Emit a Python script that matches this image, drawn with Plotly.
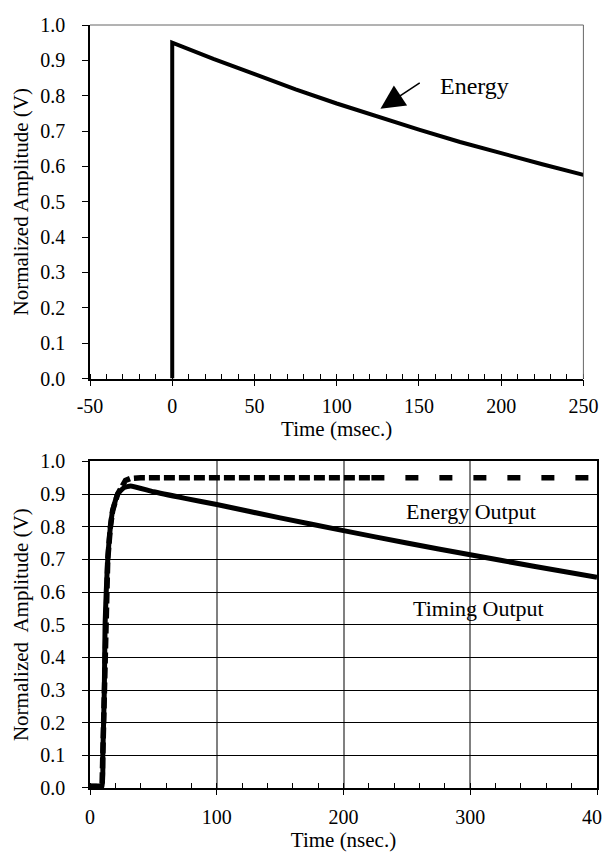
import plotly.graph_objects as go

# ---- Data ----
# Top panel: energy output, time in msec
energy_ms_t = [0, 0, 25, 50, 75, 100, 125, 150, 175, 200, 225, 250]
energy_ms_v = [0.0, 0.950, 0.904, 0.860, 0.818, 0.778, 0.740, 0.704, 0.669, 0.637, 0.606, 0.576]

# Bottom panel: time in nsec
timing_t = [0, 5, 9.5, 10.1, 11.3, 11.9, 12.8, 14.0, 16.1, 17.9, 21.8, 26.8, 32,
            50, 75, 100, 150, 200, 250, 300, 350, 400]
timing_v = [0.005, 0.005, 0.005, 0.1, 0.3, 0.5, 0.6, 0.7, 0.8, 0.85, 0.9, 0.92, 0.925,
            0.907, 0.887, 0.868, 0.827, 0.788, 0.750, 0.714, 0.679, 0.645]

energy_out_t_a = [0, 5, 9.5, 10.1, 11.3, 11.9, 12.8, 14.0, 16.1, 17.9, 21.8, 25, 28, 32, 36, 40,
                  80, 120, 160, 200, 222]
energy_out_v_a = [0.005, 0.005, 0.005, 0.1, 0.3, 0.5, 0.6, 0.7, 0.8, 0.85, 0.9, 0.925, 0.942,
                  0.948, 0.95, 0.95, 0.95, 0.95, 0.95, 0.95, 0.95]
energy_out_t_b = [222, 260, 300, 340, 400]
energy_out_v_b = [0.95, 0.95, 0.95, 0.95, 0.95]

top_xticks = [-50, 0, 50, 100, 150, 200, 250]
top_xtext = ["-50", "0", "50", "100", "150", "200", "250"]
bot_xticks = [0, 100, 200, 300, 400]
y_ticks = [0.0, 0.1, 0.2, 0.3, 0.4, 0.5, 0.6, 0.7, 0.8, 0.9, 1.0]

FONT = "Times New Roman, Liberation Serif, serif"

fig = go.Figure()
fig.add_trace(go.Scatter(x=energy_ms_t, y=energy_ms_v, mode="lines",
                         line=dict(color="black", width=4), xaxis="x", yaxis="y",
                         showlegend=False))
fig.add_trace(go.Scatter(x=timing_t, y=timing_v, mode="lines",
                         line=dict(color="black", width=5, shape="spline", smoothing=0.4),
                         xaxis="x2", yaxis="y2", showlegend=False))
fig.add_trace(go.Scatter(x=energy_out_t_a, y=energy_out_v_a, mode="lines",
                         line=dict(color="black", width=5.5, dash="11px,4px"),
                         xaxis="x2", yaxis="y2", showlegend=False))
fig.add_trace(go.Scatter(x=energy_out_t_b, y=energy_out_v_b, mode="lines",
                         line=dict(color="black", width=5.5, dash="13px,21px"),
                         xaxis="x2", yaxis="y2", showlegend=False))

common_y = dict(range=[0, 1], tickvals=y_ticks, tickformat=".1f", ticks="outside",
                ticklen=6, tickwidth=1, tickcolor="black", showline=True,
                linecolor="black", linewidth=1.5, zeroline=False,
                tickfont=dict(family=FONT, size=20, color="black"),
                ticklabelstandoff=13, fixedrange=True)

fig.update_layout(
    width=610, height=853,
    margin=dict(l=82, r=6, t=16, b=73),
    paper_bgcolor="white", plot_bgcolor="white",
    font=dict(family=FONT, color="black"),
    xaxis=dict(domain=[0, 0.97318], anchor="y", range=[-50, 250], tickvals=top_xticks,
               ticktext=top_xtext,
               ticks="outside", ticklen=6, tickwidth=1, tickcolor="black",
               showline=True, linecolor="black", linewidth=1.5, showgrid=False,
               zeroline=False,
               minor=dict(ticks="inside", dtick=10, tick0=0, ticklen=5, tickwidth=1,
                          tickcolor="black", showgrid=False),
               tickfont=dict(family=FONT, size=20, color="black"),
               ticklabelstandoff=3,
               title=dict(text="Time (msec.)", font=dict(family=FONT, size=21), standoff=0)),
    yaxis=dict(domain=[0.53665, 1], anchor="x", showgrid=False,
               title=dict(text="Normalized Amplitude (V)", font=dict(family=FONT, size=21),
                          standoff=6),
               **common_y),
    xaxis2=dict(domain=[0, 1], anchor="y2", range=[0, 400], tickvals=bot_xticks,
                ticks="outside", ticklen=5, tickwidth=1, tickcolor="black",
                showline=True, linecolor="black", linewidth=1.5, mirror=True,
                showgrid=True, gridcolor="#808080", gridwidth=1.5, zeroline=False,
                minor=dict(ticks="inside", dtick=20, tick0=0, ticklen=5, tickwidth=1,
                           tickcolor="black", showgrid=False),
                tickfont=dict(family=FONT, size=20, color="black"),
                ticklabelstandoff=5,
                title=dict(text="Time (nsec.)", font=dict(family=FONT, size=21), standoff=0)),
    yaxis2=dict(domain=[0, 0.42801], anchor="x2", showgrid=True, gridcolor="black",
                gridwidth=1, mirror=True,
                title=dict(text="Normalized  Amplitude (V)", font=dict(family=FONT, size=21),
                           standoff=6),
                **common_y),
)

# Thin grey frame on top panel (top and right edges)
fig.add_shape(type="line", xref="x domain", yref="y domain", x0=0, x1=1, y0=1, y1=1,
              line=dict(color="#666666", width=1))
fig.add_shape(type="line", xref="x domain", yref="y domain", x0=1, x1=1, y0=0, y1=1,
              line=dict(color="#666666", width=1))

# Annotations
fig.add_annotation(x=126.6, y=0.763, ax=151.4, ay=0.839, xref="x", yref="y",
                   axref="x", ayref="y", text="", showarrow=True, arrowhead=2,
                   arrowsize=3, arrowwidth=1.6, arrowcolor="black")
fig.add_annotation(x=184, y=0.828, xref="x", yref="y", text="Energy", showarrow=False,
                   font=dict(family=FONT, size=24, color="black"))
fig.add_annotation(x=300.4, y=0.847, xref="x2", yref="y2", text="Energy Output",
                   showarrow=False, font=dict(family=FONT, size=22, color="black"))
fig.add_annotation(x=306.3, y=0.55, xref="x2", yref="y2", text="Timing Output",
                   showarrow=False, font=dict(family=FONT, size=22, color="black"))

fig.write_html("out.html")
